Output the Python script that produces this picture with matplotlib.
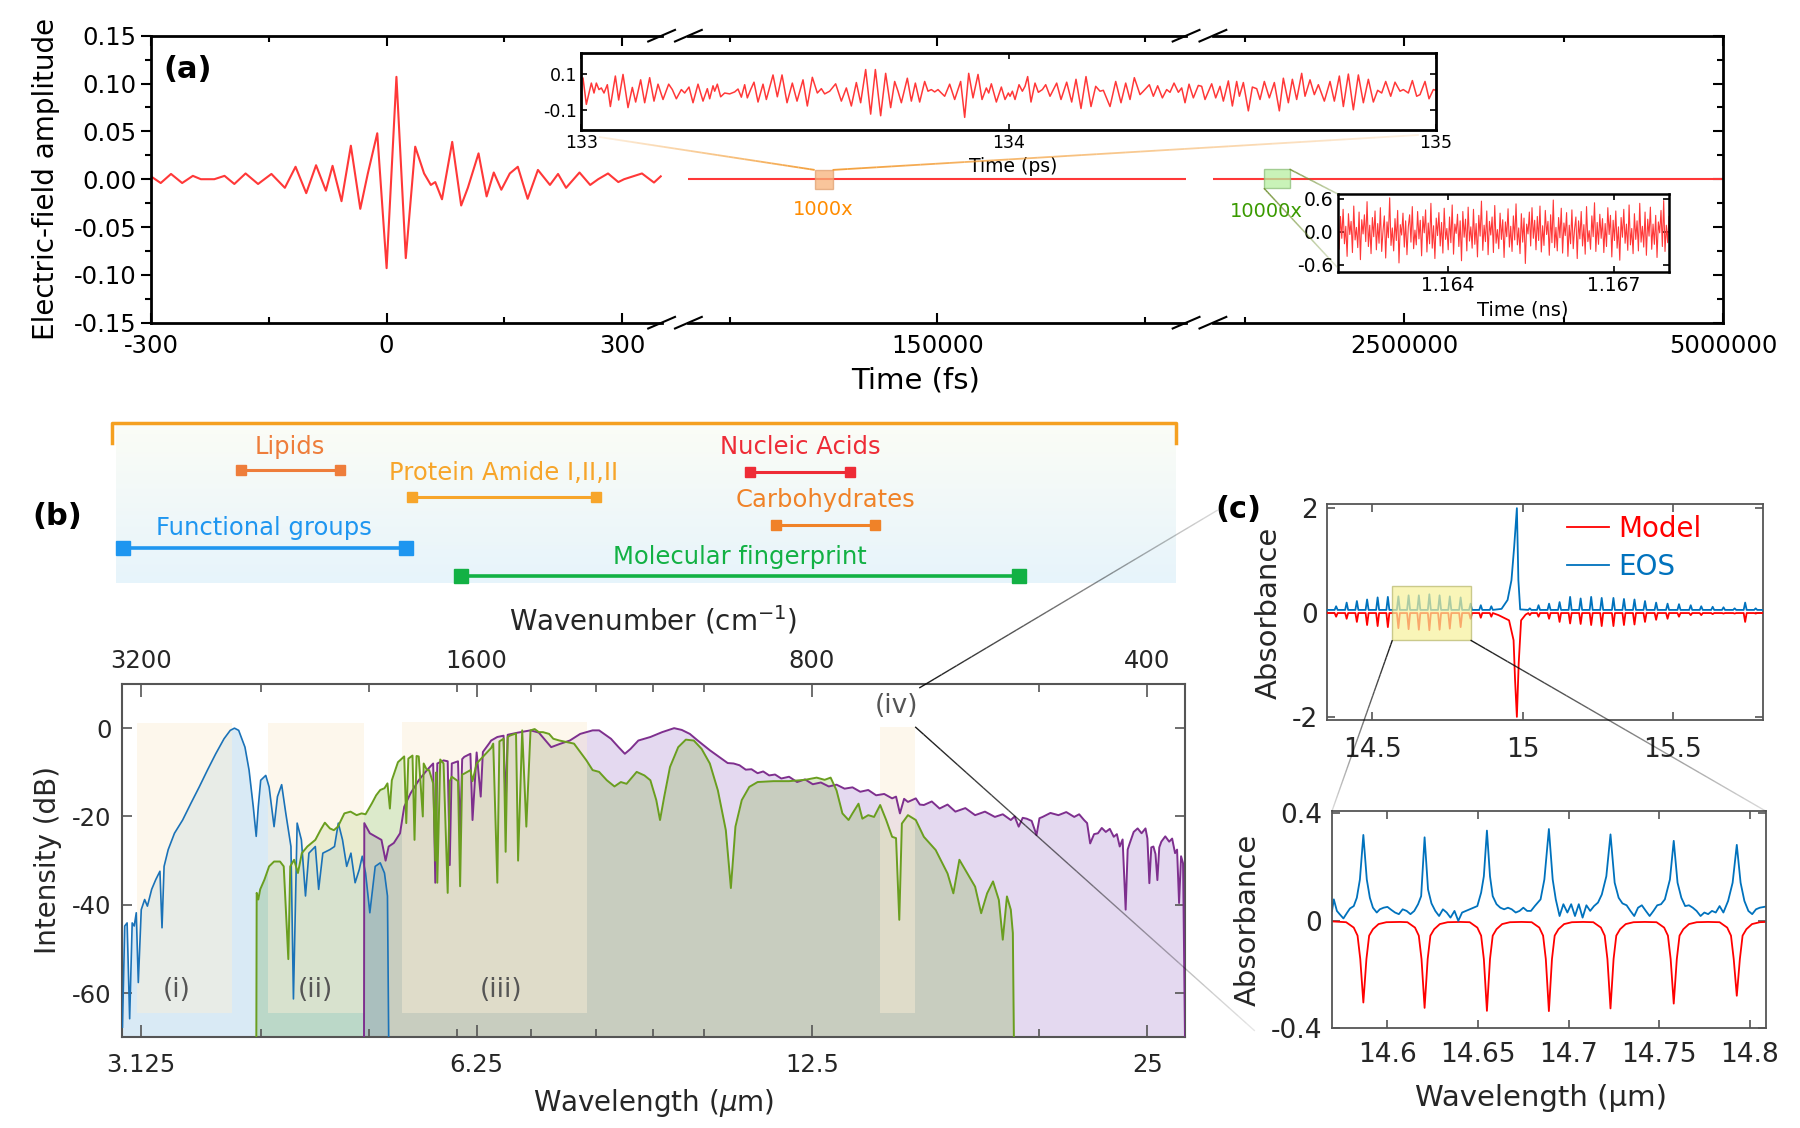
import numpy as np
import matplotlib
matplotlib.use("Agg")
import matplotlib.pyplot as plt
from matplotlib.collections import LineCollection
from matplotlib.transforms import IdentityTransform
from matplotlib.colors import to_rgba
from matplotlib.ticker import FixedLocator, NullFormatter
from matplotlib.patches import Rectangle

plt.rcParams['font.family'] = ['DejaVu Sans']
plt.rcParams['axes.unicode_minus'] = False
plt.rcParams['mathtext.fontset'] = 'dejavusans'

# ====================== DATA ======================
# (a) time-domain field, main window (fs)
pulse_t = [-300, -287.5, -274.4, -260.2, -246.6, -236.4, -219.3, -206.3, -193.8, -179.5,
           -163.6, -146.6, -129.5, -115.9, -102.3, -89.8, -77.3, -68.8, -57.4, -45.5,
           -33.5, -23.9, -11.9, 0.0, 12.5, 24.4, 36.4, 47.7, 56.3, 61.9,
           70.5, 83.5, 94.9, 103.4, 117.0, 127.3, 136.4, 146.0, 156.8, 167.0,
           179.5, 192.6, 207.9, 218.2, 228.4, 245.5, 259.1, 269.3, 281.8, 294.9,
           302.3, 325.0, 340.3, 348.9]
pulse_e = [0.003, -0.004, 0.0055, -0.004, 0.0035, 0.0, 0.0, 0.0035, -0.005, 0.006,
           -0.005, 0.0055, -0.009, 0.013, -0.0146, 0.0146, -0.012, 0.014, -0.023, 0.035,
           -0.031, 0.006, 0.048, -0.093, 0.107, -0.0825, 0.034, 0.006, -0.006, -0.003,
           -0.021, 0.039, -0.0275, -0.009, 0.027, -0.018, 0.007, -0.011, 0.006, 0.013,
           -0.0205, 0.0097, -0.006, 0.0055, -0.009, 0.007, -0.006, 0.0, 0.006, -0.003,
           0.0, 0.006, -0.0035, 0.003]
mid_t = [30000, 270000]
mid_e = [0.0, 0.0]
late_t = [1000000, 5000000]
late_e = [0.0, 0.0]
seg_limits = [(-300, 350), (30000, 270000), (1000000, 5000000)]
seg_major = [[-300, 0, 300], [150000], [2500000, 5000000]]
seg_minor = [[-150, 150], [50000, 250000], [1250000, 3750000]]
field_ticks = [-0.15, -0.10, -0.05, 0.0, 0.05, 0.10, 0.15]
field_minor = [-0.125, -0.075, -0.025, 0.025, 0.075, 0.125]
box1000 = [90900, 99530, -0.0105, 0.0097]       # t0, t1, e0, e1
box10000 = [1399700, 1600700, -0.0094, 0.0105]

# (a) inset: 1000x magnified window (ps)
ps_t = [133.0040, 133.0118, 133.0235, 133.0297, 133.0352, 133.0414, 133.0469, 133.0531, 133.0609, 133.0680,
        133.0797, 133.0875, 133.0976, 133.1093, 133.1194, 133.1272, 133.1389, 133.1483, 133.1600, 133.1701,
        133.1795, 133.1912, 133.2045, 133.2130, 133.2224, 133.2341, 133.2419, 133.2520, 133.2614, 133.2731,
        133.2848, 133.2949, 133.3004, 133.3082, 133.3121, 133.3183, 133.3261, 133.3355, 133.3472, 133.3589,
        133.3667, 133.3745, 133.3823, 133.3885, 133.3963, 133.4041, 133.4135, 133.4252, 133.4330, 133.4486,
        133.4587, 133.4697, 133.4814, 133.4938, 133.5048, 133.5188, 133.5289, 133.5406, 133.5523, 133.5617,
        133.5695, 133.5812, 133.5952, 133.6085, 133.6202, 133.6319, 133.6436, 133.6537, 133.6654, 133.6771,
        133.6881, 133.7005, 133.7122, 133.7239, 133.7333, 133.7411, 133.7489, 133.7629, 133.7723, 133.7817,
        133.7918, 133.8035, 133.8113, 133.8191, 133.8269, 133.8347, 133.8425, 133.8503, 133.8620, 133.8737,
        133.8877, 133.8971, 133.9065, 133.9166, 133.9283, 133.9377, 133.9478, 133.9533, 133.9595, 133.9712,
        133.9829,
        133.9915, 133.9993, 134.0032, 134.0087, 134.0149, 134.0243, 134.0321, 134.0383, 134.0445, 134.0523,
        134.0617, 134.0695, 134.0789, 134.0867, 134.0968, 134.1124, 134.1225, 134.1358, 134.1475, 134.1576,
        134.1693, 134.1810, 134.1927, 134.2037, 134.2138, 134.2216, 134.2372, 134.2505, 134.2629, 134.2739,
        134.2840, 134.2941, 134.3074, 134.3152, 134.3292, 134.3386, 134.3487, 134.3597, 134.3698, 134.3776,
        134.3870, 134.3971, 134.4049, 134.4127, 134.4221, 134.4322, 134.4439, 134.4517, 134.4595, 134.4751,
        134.4845, 134.4946, 134.5024, 134.5141, 134.5235, 134.5336, 134.5400, 134.5492, 134.5609, 134.5703,
        134.5804, 134.5882, 134.5983, 134.6100, 134.6217, 134.6334, 134.6428, 134.6545, 134.6639, 134.6740,
        134.6857, 134.6935, 134.7052, 134.7153, 134.7247, 134.7387, 134.7520, 134.7621, 134.7738, 134.7832,
        134.7949, 134.8066, 134.8183, 134.8300, 134.8417, 134.8534, 134.8635, 134.8729, 134.8823, 134.8940,
        134.9041, 134.9158, 134.9236, 134.9353, 134.9447, 134.9548, 134.9626, 134.9743, 134.9837, 134.9938,
        135.0000]
ps_e = [0.077, -0.068, 0.050, -0.005, 0.050, 0.014, 0.023, -0.005, 0.041, -0.080,
        0.089, -0.044, 0.098, -0.086, 0.026, -0.055, 0.068, -0.059, 0.080, -0.050,
        0.044, -0.041, 0.044, 0.014, -0.037, 0.014, -0.005, 0.028, -0.059, 0.044,
        -0.050, 0.019, -0.037, 0.035, 0.005, 0.044, -0.026, -0.005, -0.010, 0.001,
        0.017, -0.028, 0.041, -0.032, 0.014, 0.055, -0.055, 0.044, -0.041, 0.095,
        -0.026, 0.095, -0.059, 0.050, -0.050, 0.068, -0.077, 0.082, -0.005, 0.019,
        -0.010, 0.005, 0.046, -0.050, 0.023, -0.077, 0.053, -0.059, 0.125, -0.122,
        0.125, -0.131, 0.104, -0.086, 0.059, 0.005, -0.059, 0.077, -0.050, 0.050,
        -0.055, 0.059, 0.005, 0.014, 0.001, 0.014, -0.005, -0.023, 0.044, -0.041,
        0.059, -0.140, 0.104, -0.032, 0.098, -0.041, 0.023, -0.005, 0.046, -0.055,
        0.028,
        -0.041, -0.005, -0.023, 0.005, -0.041, 0.041, 0.005, 0.032, 0.086, -0.055,
        0.050, -0.001, 0.014, 0.041, -0.023, 0.050, -0.041, 0.055, -0.055, 0.071,
        -0.091, 0.086, -0.080, 0.032, 0.005, 0.010, -0.080, 0.059, -0.059, 0.050,
        -0.041, 0.080, -0.014, 0.005, 0.041, -0.023, 0.035, -0.032, 0.014, -0.001,
        0.050, -0.001, 0.023, -0.059, 0.044, -0.032, 0.037, 0.032, -0.041, 0.046,
        -0.032, 0.032, -0.050, 0.062, -0.077, 0.059, -0.023, 0.053, -0.104, 0.028,
        0.019, -0.041, 0.059, -0.032, 0.053, -0.104, 0.077, -0.059, 0.071, -0.041,
        0.104, -0.023, 0.068, -0.014, 0.041, -0.050, 0.059, -0.050, 0.089, -0.080,
        0.100, -0.098, 0.095, -0.059, 0.071, -0.055, 0.010, -0.005, 0.059, -0.023,
        0.055, 0.005, 0.014, -0.005, 0.064, -0.023, -0.014, 0.059, -0.037, 0.014,
        0.010]

# (a) inset: 10000x magnified window (ns), field values
ns_range = (1.1620, 1.1680)
ns_e = [0.05, -0.32, 0.28, -0.12, 0.41, -0.22, 0.10, -0.45, 0.33, -0.05, 0.19, -0.38, 0.47, -0.15, 0.08, -0.29, 0.36, -0.51, 0.22, -0.04, 0.31, -0.18, 0.55, -0.27, 0.12,
        -0.40, 0.26, -0.09, 0.38, -0.33, 0.15, -0.21, 0.44, -0.36, 0.02, 0.29, -0.48, 0.18, -0.11, 0.62, -0.25, 0.07, -0.35, 0.24, -0.16, 0.39, -0.57, 0.13, -0.06, 0.34,
        -0.28, 0.20, -0.42, 0.09, 0.31, -0.19, 0.46, -0.31, 0.03, -0.24, 0.37, -0.13, 0.21, -0.44, 0.28, -0.02, 0.40, -0.37, 0.16, -0.22, 0.52, -0.30, 0.11, -0.49, 0.25,
        -0.07, 0.35, -0.26, 0.17, -0.39, 0.43, -0.14, 0.06, -0.33, 0.27, -0.20, 0.49, -0.41, 0.14, -0.03, 0.32, -0.27, 0.20, -0.53, 0.37, -0.10, 0.23, -0.35, 0.45, -0.17,
        0.09, -0.30, 0.41, -0.23, 0.15, -0.46, 0.30, -0.08, 0.56, -0.34, 0.12, -0.18, 0.38, -0.42, 0.19, -0.06, 0.27, -0.38, 0.48, -0.21, 0.04, -0.31, 0.34, -0.14, 0.22,
        -0.47, 0.18, -0.09, 0.42, -0.28, 0.10, -0.36, 0.29, -0.15, 0.51, -0.24, 0.07, -0.40, 0.33, -0.19, 0.25, -0.58, 0.14, -0.04, 0.36, -0.26, 0.44, -0.12, 0.21, -0.33,
        0.28, -0.16, 0.47, -0.37, 0.11, -0.25, 0.39, -0.05, 0.19, -0.43, 0.31, -0.20, 0.58, -0.29, 0.08, -0.35, 0.26, -0.11, 0.43, -0.39, 0.16, -0.07, 0.35, -0.45, 0.12,
        -0.22, 0.40, -0.31, 0.05, 0.27, -0.49, 0.20, -0.13, 0.37, -0.26, 0.13, -0.41, 0.46, -0.18, 0.02, -0.32, 0.29, -0.09, 0.53, -0.36, 0.17, -0.23, 0.32, -0.12, 0.24,
        -0.38, 0.15, -0.27, 0.44, -0.05, 0.30, -0.46, 0.21, -0.16, 0.38, -0.30, 0.09, -0.52, 0.26, -0.10, 0.41, -0.21, 0.14, -0.34, 0.49, -0.24, 0.06, -0.40, 0.33, -0.14,
        0.20, -0.35, 0.52, -0.19, 0.10, -0.28, 0.36, -0.43, 0.23, -0.08, 0.45, -0.32, 0.14, -0.23, 0.30, -0.47, 0.18, -0.02, 0.39, -0.27, 0.57, -0.36, 0.12, -0.20, 0.28]

# (b) spectral bands (wavenumber, cm^-1)
band_names = ['Lipids', 'Protein Amide I,II,II', 'Functional groups',
              'Molecular fingerprint', 'Nucleic Acids', 'Carbohydrates']
band_start = [2606, 1829, 3322, 1653, 909, 862]
band_end = [2124, 1250, 1853, 522, 740, 703]

# (b) spectra: wavelength (um) vs intensity (dB)
blue_wl = [3.006, 3.020, 3.035, 3.051, 3.067, 3.080, 3.093, 3.106, 3.125, 3.147, 3.165, 3.193, 3.220, 3.248,
           3.262, 3.276, 3.304, 3.347, 3.404, 3.463, 3.523, 3.583, 3.645, 3.708, 3.756, 3.789, 3.822, 3.872,
           3.905, 3.939, 3.963, 3.980, 4.000, 4.042, 4.070, 4.112, 4.141, 4.177, 4.213, 4.258, 4.280, 4.313,
           4.351, 4.388, 4.419, 4.478, 4.509, 4.548, 4.615, 4.659, 4.696, 4.737, 4.778, 4.820, 4.862, 4.904,
           4.934, 4.968, 5.012, 5.068, 5.121, 5.166, 5.198, 5.211]
blue_db = [-67.7, -44.8, -44.1, -65.8, -44.1, -44.8, -41.8, -57.6, -41.1, -38.8, -40.3, -36.5, -34.3, -32.4,
           -45.2, -31.3, -27.5, -23.8, -20.8, -17.0, -13.3, -9.5, -5.8, -2.4, -0.5, 0.0, -0.5, -4.3,
           -9.5, -17.8, -24.5, -17.8, -11.8, -10.7, -13.3, -22.3, -15.5, -12.8, -19.3, -26.8, -61.3, -21.5,
           -25.3, -38.0, -28.3, -26.8, -36.5, -28.3, -27.5, -26.8, -21.5, -25.3, -31.3, -28.3, -35.0, -32.0,
           -29.0, -32.8, -41.8, -31.3, -30.5, -32.8, -38.0, -69.9]
green_wl = [3.964, 3.967, 3.980, 3.996, 4.031, 4.070, 4.112, 4.163, 4.195, 4.235, 4.252, 4.286, 4.320, 4.355,
            4.405, 4.478, 4.528, 4.567, 4.615, 4.653, 4.692, 4.755, 4.816, 4.877, 4.927, 4.968, 5.034, 5.078,
            5.121, 5.166, 5.198, 5.224, 5.245, 5.312, 5.381, 5.404, 5.427, 5.474, 5.497, 5.520, 5.545, 5.592,
            5.602, 5.640, 5.665, 5.689, 5.713, 5.738, 5.750, 5.762, 5.797, 5.837, 5.887, 5.912, 5.937, 6.014,
            6.040, 6.066, 6.092, 6.170, 6.197, 6.250, 6.303, 6.331, 6.412, 6.440, 6.468, 6.523, 6.551, 6.608,
            6.636, 6.664, 6.693, 6.780, 6.809, 6.867, 6.926, 6.986, 7.046, 7.107, 7.168, 7.260, 7.323, 7.417,
            7.545, 7.643, 7.742, 7.842, 7.943, 8.05, 8.18, 8.31, 8.42, 8.52, 8.70, 8.84, 8.95, 9.06,
            9.13, 9.21, 9.32, 9.48, 9.63, 9.79, 9.95, 10.12, 10.29, 10.46, 10.57, 10.67, 10.81, 10.98,
            11.17, 11.54, 11.92, 12.32, 12.62, 12.83, 12.99, 13.15, 13.31, 13.48, 13.59, 13.76, 13.87, 14.04,
            14.21, 14.39, 14.57, 14.75, 14.87, 14.97, 15.05, 15.24, 15.49, 15.75, 16.14, 16.54, 16.74, 16.95,
            17.23, 17.51, 17.73, 17.95, 18.17, 18.39, 18.54, 18.70, 18.85, 18.93, 18.97]
green_db = [-69.9, -37.3, -38.8, -36.5, -34.3, -31.3, -30.2, -30.2, -31.3, -52.3, -31.3, -29.8, -32.8, -28.3,
            -26.8, -25.3, -23.0, -21.4, -22.7, -23.1, -22.3, -19.3, -18.9, -19.7, -19.3, -19.5, -17.0, -15.2,
            -14.0, -13.6, -12.5, -18.2, -11.8, -7.7, -6.4, -21.5, -6.9, -6.2, -25.3, -6.3, -6.4, -20.0,
            -8.0, -9.5, -9.5, -11.0, -12.5, -30.0, -10.0, -35.0, -7.1, -8.0, -37.3, -12.0, -11.0, -12.0,
            -35.8, -10.5, -10.3, -9.5, -12.0, -8.0, -7.0, -6.5, -5.0, -4.5, -3.5, -35.0, -3.0, -2.4,
            -28.0, -2.0, -1.7, -1.2, -30.0, -0.5, -22.3, -0.5, -0.2, -0.9, -0.9, -1.3, -2.4, -2.8,
            -3.2, -3.5, -5.4, -7.3, -9.5, -9.9, -11.8, -13.2, -12.2, -12.6, -9.9, -10.7, -11.8, -16.3,
            -20.8, -15.5, -8.8, -4.3, -2.6, -2.8, -4.7, -8.0, -14.1, -23.1, -36.2, -22.3, -16.3, -13.3,
            -12.2, -12.0, -12.0, -11.7, -11.2, -11.7, -11.2, -14.1, -19.3, -20.8, -19.3, -17.1, -20.5, -19.7,
            -20.1, -17.4, -20.8, -24.6, -24.9, -43.4, -21.6, -19.7, -20.8, -24.6, -27.6, -32.9, -37.4, -29.8,
            -32.9, -35.9, -41.9, -37.4, -34.7, -38.9, -47.9, -38.1, -41.1, -46.4, -69.9]
purple_wl = [4.952, 4.955, 5.012, 5.068, 5.134, 5.178, 5.211, 5.267, 5.335, 5.381, 5.451, 5.545, 5.640, 5.713,
             5.738, 5.762, 5.837, 5.887, 5.912, 5.937, 6.014, 6.040, 6.066, 6.092, 6.170, 6.197, 6.250, 6.303,
             6.331, 6.412, 6.440, 6.523, 6.608, 6.636, 6.664, 6.809, 6.986, 7.107, 7.291, 7.417, 7.578, 7.742,
             7.943, 8.05, 8.25, 8.38, 8.49, 8.59, 8.73, 8.95, 9.17, 9.40, 9.55, 9.71, 9.87, 10.12,
             10.37, 10.50, 10.63, 10.76, 10.90, 11.03, 11.17, 11.30, 11.44, 11.58, 11.73, 11.92, 12.12, 12.32,
             12.52, 12.73, 12.94, 13.15, 13.37, 13.59, 13.81, 14.04, 14.27, 14.51, 14.75, 14.87, 14.99, 15.12,
             15.24, 15.49, 15.62, 15.75, 16.01, 16.27, 16.54, 16.81, 17.16, 17.51, 17.87, 18.24, 18.54, 18.85,
             19.00, 19.16, 19.32, 19.48, 19.68, 19.88, 20.00, 20.13, 20.46, 20.80, 21.14, 21.49, 21.71, 21.93,
             22.07, 22.21, 22.39, 22.57, 22.75, 22.94, 23.13, 23.32, 23.47, 23.61, 23.75, 23.90, 24.00, 24.10,
             24.30, 24.50, 24.70, 24.90, 25.00, 25.10, 25.20, 25.31, 25.42, 25.52, 25.62, 25.73, 25.94, 26.15,
             26.31, 26.47, 26.58, 26.69, 26.80, 26.91, 27.02]
purple_db = [-69.9, -21.5, -23.8, -24.5, -25.3, -30.0, -26.8, -26.0, -23.8, -17.8, -14.8, -11.8, -9.5, -8.0,
             -35.0, -8.0, -7.3, -7.5, -31.0, -8.0, -7.5, -24.5, -7.0, -6.5, -5.8, -20.8, -5.5, -15.5,
             -5.4, -3.5, -2.8, -2.0, -1.7, -17.8, -1.5, -1.0, -0.5, -1.0, -4.3, -3.6, -2.8, -1.3,
             -0.5, -0.5, -2.4, -4.3, -5.8, -4.7, -2.8, -2.0, -0.9, 0.0, -0.4, -1.3, -2.8, -5.0,
             -6.9, -7.9, -8.0, -8.4, -9.4, -9.3, -10.2, -9.8, -10.7, -10.5, -11.4, -11.0, -12.2, -11.6,
             -12.7, -12.3, -13.2, -12.8, -13.7, -13.4, -14.4, -14.0, -15.2, -14.9, -15.9, -15.5, -19.3, -16.0,
             -16.7, -15.9, -17.3, -17.4, -16.6, -18.2, -17.3, -18.9, -18.1, -19.7, -18.9, -20.1, -19.5, -20.8,
             -20.0, -22.3, -20.3, -20.5, -21.0, -24.2, -20.4, -20.1, -19.2, -19.7, -19.0, -20.1, -19.5, -20.8,
             -21.5, -26.1, -24.0, -23.8, -22.6, -23.5, -22.8, -24.6, -24.0, -26.8, -25.2, -41.1, -27.5, -26.1,
             -23.5, -22.7, -23.8, -22.7, -25.0, -35.1, -27.0, -26.8, -28.5, -34.4, -27.0, -25.7, -24.5, -25.7,
             -25.0, -28.3, -27.5, -39.6, -29.0, -30.6, -69.9]
region_labels = ['(i)', '(ii)', '(iii)', '(iv)']
region_lo = [3.099, 4.058, 5.361, 14.39]
region_hi = [3.773, 4.950, 7.846, 15.47]
region_top = [1.1, 1.1, 1.3, 0.3]
region_bottom = -64.6

# (c) top: line centres and strengths (wavelength um, absorbance)
line_c = [14.380, 14.415, 14.449, 14.483, 14.518, 14.552, 14.587, 14.621, 14.655, 14.690, 14.724, 14.758,
          14.794, 14.827, 14.861, 14.896,
          15.024, 15.053, 15.088, 15.123, 15.158, 15.193, 15.228, 15.263, 15.302, 15.337, 15.372, 15.407,
          15.444, 15.482, 15.520, 15.559, 15.594, 15.632, 15.668, 15.705, 15.740, 15.775]
eos_peak = [0.12, 0.19, 0.22, 0.25, 0.29, 0.30, 0.31, 0.33, 0.33, 0.35, 0.33, 0.31,
            0.29, 0.17, 0.14, 0.12,
            0.08, 0.14, 0.17, 0.20, 0.30, 0.27, 0.30, 0.28, 0.28, 0.26, 0.25, 0.22,
            0.19, 0.17, 0.16, 0.14, 0.12, 0.11, 0.10, 0.08, 0.19, 0.08]
model_dip = [-0.08, -0.12, -0.18, -0.24, -0.26, -0.28, -0.30, -0.32, -0.33, -0.34, -0.33, -0.31,
             -0.28, -0.12, -0.10, -0.08,
             -0.05, -0.08, -0.12, -0.18, -0.21, -0.22, -0.24, -0.26, -0.26, -0.24, -0.23, -0.18,
             -0.14, -0.12, -0.08, -0.05, -0.05, -0.03, -0.02, -0.02, -0.18, -0.02]
eos_base = 0.05
model_base = -0.01
q_eos_wl = [14.930, 14.950, 14.963, 14.972, 14.981, 14.986, 14.992]
q_eos_a = [0.07, 0.24, 0.62, 1.26, 2.00, 0.62, 0.06]
q_model_wl = [14.920, 14.955, 14.970, 14.975, 14.981, 14.987, 14.995, 15.010]
q_model_a = [-0.05, -0.15, -0.53, -1.30, -2.00, -0.98, -0.15, -0.04]
zoom_box_c = [14.567, 14.827, -0.53, 0.505]

# (c) bottom: zoomed absorbance
eosz_wl = [14.5694, 14.5704, 14.5721, 14.5736, 14.5757, 14.5778, 14.5793, 14.5814, 14.5831, 14.5848,
           14.5867, 14.5886, 14.5903, 14.5920, 14.5941, 14.5958, 14.5979, 14.6000, 14.6021, 14.6042,
           14.6063, 14.6084, 14.6106, 14.6127, 14.6148, 14.6169, 14.6186, 14.6205, 14.6224, 14.6243,
           14.6264, 14.6285, 14.6306, 14.6327, 14.6348, 14.6370, 14.6391, 14.6412, 14.6433, 14.6454,
           14.6475, 14.6496, 14.6517, 14.6532, 14.6549, 14.6566, 14.6581, 14.6602, 14.6623, 14.6644,
           14.6665, 14.6686, 14.6708, 14.6729, 14.6750, 14.6771, 14.6792, 14.6813, 14.6845, 14.6866,
           14.6891, 14.6912, 14.6929, 14.6950, 14.6971, 14.6993, 14.7014, 14.7035, 14.7056, 14.7077,
           14.7098, 14.7119, 14.7140, 14.7162, 14.7183, 14.7208, 14.7231, 14.7254, 14.7276, 14.7297,
           14.7320, 14.7341, 14.7362, 14.7383, 14.7404, 14.7426, 14.7447, 14.7468, 14.7489, 14.7510,
           14.7531, 14.7559, 14.7580, 14.7601, 14.7622, 14.7643, 14.7664, 14.7685, 14.7706, 14.7728,
           14.7749, 14.7770, 14.7791, 14.7812, 14.7833, 14.7854, 14.7880, 14.7905, 14.7928, 14.7949,
           14.7970, 14.7992, 14.8013, 14.8034, 14.8055, 14.8087]
eosz_a = [0.037, 0.080, 0.037, 0.025, 0.009, 0.031, 0.046, 0.055, 0.086, 0.154,
          0.320, 0.154, 0.086, 0.049, 0.031, 0.043, 0.049, 0.052, 0.041, 0.031,
          0.025, 0.043, 0.037, 0.025, 0.037, 0.062, 0.092, 0.311, 0.117, 0.065,
          0.037, 0.018, 0.043, 0.031, 0.012, 0.037, 0.000, 0.031, 0.037, 0.043,
          0.049, 0.055, 0.105, 0.166, 0.336, 0.166, 0.092, 0.062, 0.049, 0.043,
          0.049, 0.043, 0.031, 0.037, 0.049, 0.037, 0.037, 0.055, 0.080, 0.154,
          0.342, 0.154, 0.080, 0.018, 0.062, 0.031, 0.062, 0.018, 0.062, 0.012,
          0.058, 0.037, 0.055, 0.068, 0.098, 0.166, 0.322, 0.142, 0.086, 0.065,
          0.058, 0.037, 0.018, 0.049, 0.058, 0.037, 0.018, 0.037, 0.058, 0.062,
          0.080, 0.154, 0.298, 0.142, 0.086, 0.055, 0.058, 0.049, 0.037, 0.018,
          0.031, 0.025, 0.037, 0.031, 0.055, 0.031, 0.074, 0.142, 0.283, 0.142,
          0.074, 0.037, 0.025, 0.043, 0.049, 0.053]
modz_wl = [14.5694, 14.5772, 14.5814, 14.5835, 14.5850, 14.5867, 14.5884, 14.5899, 14.5920, 14.5951, 14.5994, 14.6070,
           14.6110, 14.6152, 14.6173, 14.6188, 14.6205, 14.6222, 14.6237, 14.6258, 14.6289, 14.6332, 14.6400,
           14.6454, 14.6496, 14.6517, 14.6532, 14.6549, 14.6566, 14.6581, 14.6602, 14.6633, 14.6676, 14.6740,
           14.6796, 14.6838, 14.6859, 14.6874, 14.6891, 14.6908, 14.6923, 14.6944, 14.6975, 14.7018, 14.7080,
           14.7136, 14.7178, 14.7199, 14.7214, 14.7231, 14.7248, 14.7263, 14.7284, 14.7315, 14.7358, 14.7420,
           14.7485, 14.7527, 14.7548, 14.7563, 14.7580, 14.7597, 14.7612, 14.7633, 14.7664, 14.7707, 14.7770,
           14.7833, 14.7875, 14.7896, 14.7911, 14.7928, 14.7945, 14.7960, 14.7981, 14.8012, 14.8055, 14.8087]
modz_a = [-0.002, -0.005, -0.025, -0.055, -0.142, -0.304, -0.142, -0.055, -0.031, -0.012, -0.005, -0.004,
          -0.005, -0.025, -0.055, -0.142, -0.324, -0.142, -0.055, -0.031, -0.012, -0.005, -0.004,
          -0.005, -0.025, -0.055, -0.142, -0.335, -0.142, -0.055, -0.031, -0.012, -0.005, -0.004,
          -0.005, -0.025, -0.055, -0.142, -0.336, -0.142, -0.055, -0.031, -0.012, -0.005, -0.004,
          -0.005, -0.025, -0.055, -0.142, -0.326, -0.142, -0.055, -0.031, -0.012, -0.005, -0.004,
          -0.005, -0.025, -0.055, -0.142, -0.308, -0.142, -0.055, -0.031, -0.012, -0.005, -0.004,
          -0.005, -0.025, -0.055, -0.142, -0.279, -0.142, -0.055, -0.031, -0.012, -0.005, -0.004]

# ====================== STYLE / LAYOUT ======================
W, H = 1800, 1128
fig = plt.figure(figsize=(W / 100, H / 100), dpi=100)

RED = '#FF3838'
DARK = '#262626'


def fax(l, t, r, b, **kw):
    return fig.add_axes([l / W, 1 - b / H, (r - l) / W, (b - t) / H], **kw)


def disp(ax, xy, coords='data'):
    tr = ax.transData if coords == 'data' else ax.transAxes
    return tr.transform(xy)


def fade(p0, p1, color, a0, a1, lw=1.0, n=40, z=20):
    xs = np.linspace(p0[0], p1[0], n + 1)
    ys = np.linspace(p0[1], p1[1], n + 1)
    segs = [[(xs[i], ys[i]), (xs[i + 1], ys[i + 1])] for i in range(n)]
    cols = [to_rgba(color, a) for a in np.linspace(a0, a1, n)]
    lc = LineCollection(segs, colors=cols, linewidths=lw, transform=IdentityTransform(), zorder=z)
    fig.add_artist(lc)


# ---------------- (a) ----------------
seg_px = [(150.9, 661.6), (688.4, 1186.1), (1212.9, 1723.3)]
a_top, a_bot = 35.7, 322.7
segs = []
for i, (l, r) in enumerate(seg_px):
    ax = fax(l, a_top, r, a_bot)
    ax.set_xlim(*seg_limits[i])
    ax.set_ylim(-0.15, 0.15)
    for s in ax.spines.values():
        s.set_linewidth(2.0)
    ax.spines['left'].set_visible(i == 0)
    ax.spines['right'].set_visible(i == 2)
    ax.set_xticks(seg_major[i])
    ax.set_xticks(seg_minor[i], minor=True)
    ax.set_xticklabels([str(v) for v in seg_major[i]], fontsize=17.5)
    ax.tick_params(axis='x', which='both', direction='in', top=True, bottom=True, pad=8, width=1.5)
    ax.tick_params(axis='x', which='major', length=7)
    ax.tick_params(axis='x', which='minor', length=4)
    ax.set_yticks(field_ticks)
    ax.set_yticks(field_minor, minor=True)
    if i == 0:
        ax.set_yticklabels(['%.2f' % v for v in field_ticks], fontsize=17.5)
        ax.tick_params(axis='y', which='both', direction='out', left=True, right=False, width=1.5)
        ax.tick_params(axis='y', which='major', length=7)
        ax.tick_params(axis='y', which='minor', length=4)
    elif i == 1:
        ax.tick_params(axis='y', which='both', left=False, right=False, labelleft=False)
    else:
        ax.tick_params(axis='y', which='both', direction='in', left=False, right=True,
                       labelleft=False, labelright=False, width=1.5)
        ax.tick_params(axis='y', which='major', length=7)
        ax.tick_params(axis='y', which='minor', length=4)
    segs.append(ax)

a1, a2, a3 = segs
a1.plot(pulse_t, pulse_e, color=RED, lw=1.5)
a2.plot(mid_t, mid_e, color=RED, lw=1.5)
a3.plot(late_t, late_e, color=RED, lw=1.5)

# broken-axis marks
for ax, side in [(a1, 1), (a2, 0), (a2, 1), (a3, 0)]:
    bb = ax.get_position()
    wpx, hpx = bb.width * W, bb.height * H
    dx, dy = 13.4 / wpx, 5.8 / hpx
    for yy in (0, 1):
        ax.plot([side - dx, side + dx], [yy - dy, yy + dy], transform=ax.transAxes,
                color='k', lw=1.5, clip_on=False, zorder=10)

# magnified-window markers
a2.add_patch(Rectangle((box1000[0], box1000[2]), box1000[1] - box1000[0], box1000[3] - box1000[2],
                       facecolor='#F8B27A', edgecolor='#E0A070', alpha=0.75, lw=1, zorder=5))
a3.add_patch(Rectangle((box10000[0], box10000[2]), box10000[1] - box10000[0], box10000[3] - box10000[2],
                       facecolor='#B8F0A0', edgecolor='#8CBF7A', alpha=0.75, lw=1, zorder=5))
a2.text((box1000[0] + box1000[1]) / 2, -0.032, '1000x', color='#FF8C00', fontsize=14,
        ha='center', va='center')
a3.text(1415000, -0.034, '10000x', color='#3A9A00', fontsize=14, ha='center', va='center')

fig.text(187.5 / W, 1 - 70 / H, '(a)', fontsize=22, fontweight='bold', ha='center', va='center')
fig.text(916 / W, 1 - 380 / H, 'Time (fs)', fontsize=21, ha='center', va='center')
fig.text(45.7 / W, 1 - 179 / H, 'Electric-field amplitude', fontsize=20, rotation=90,
         ha='center', va='center')

# inset 1000x
i1 = fax(581.3, 53.3, 1436, 130)
i1.plot(ps_t, ps_e, color=RED, lw=1.1)
i1.set_xlim(133, 135)
i1.set_ylim(-0.21, 0.215)
i1.set_xticks([133, 134, 135])
i1.set_xticklabels(['133', '134', '135'], fontsize=12.5)
i1.set_yticks([0.1, -0.1])
i1.set_yticklabels(['0.1', '-0.1'], fontsize=12.5)
i1.tick_params(direction='in', length=4, width=1.2, top=True, right=True, pad=3)
for s in i1.spines.values():
    s.set_linewidth(2.0)
fig.text(1013 / W, 1 - 166.5 / H, 'Time (ps)', fontsize=13.5, ha='center', va='center')

# inset 10000x
i2 = fax(1337.8, 194, 1669, 271.7)
i2.plot(np.linspace(ns_range[0], ns_range[1], len(ns_e)), ns_e, color=RED, lw=0.8)
i2.set_xlim(1.162, 1.168)
i2.set_ylim(-0.73, 0.69)
i2.set_xticks([1.164, 1.167])
i2.set_xticklabels(['1.164', '1.167'], fontsize=13.5)
i2.set_yticks([0.6, 0.0, -0.6])
i2.set_yticklabels(['0.6', '0.0', '-0.6'], fontsize=13.5)
i2.tick_params(direction='in', length=4, width=1.2, top=True, right=True, pad=3)
for s in i2.spines.values():
    s.set_linewidth(1.8)
fig.text(1523 / W, 1 - 310 / H, 'Time (ns)', fontsize=14, ha='center', va='center')

# ---------------- (b) bands ----------------
XMIN, XMAX = 3.0, 27.03
bg = fax(116, 425, 1175.3, 583.3)
top_c = np.array([0.985, 0.99, 0.965])
bot_c = np.array([0.905, 0.957, 0.985])
grad = np.linspace(top_c, bot_c, 64)[:, None, :]
bg.imshow(grad, aspect='auto', extent=[0, 1, 0, 1], interpolation='bilinear')
bg.axis('off')

band = fax(121.5, 423, 1185.2, 583.3)
band.patch.set_visible(False)
band.set_xscale('log')
band.set_xlim(1e4 / XMIN, 1e4 / XMAX)
band.set_ylim(0, 1)
band.axis('off')
band_colors = ['#EE7D3B', '#F7A52A', '#1E96F0', '#12B144', '#EE2B36', '#F08228']
band_line_y = [0.707, 0.536, 0.222, 0.047, 0.696, 0.362]
band_text_y = [0.852, 0.686, 0.343, 0.166, 0.852, 0.520]
band_ms = [7, 7, 10, 10, 7, 7]
band_lw = [2.2, 2.2, 2.6, 2.6, 2.2, 2.2]
for nm, k0, k1, c, ly, ty, ms, lw in zip(band_names, band_start, band_end, band_colors,
                                          band_line_y, band_text_y, band_ms, band_lw):
    band.plot([k0, k1], [ly, ly], color=c, lw=lw, marker='s', ms=ms, clip_on=False)
    band.text(np.sqrt(k0 * k1), ty, nm, color=c, fontsize=17.5, ha='center', va='center')
band.plot([-0.0093, -0.0093, 0.9913, 0.9913], [0.877, 1.0, 1.0, 0.877], transform=band.transAxes,
          color='#F5A020', lw=2.5, clip_on=False)
fig.text(57 / W, 1 - 516.7 / H, '(b)', fontsize=22, fontweight='bold', ha='center', va='center')

# ---------------- (b) spectrum ----------------
sp = fax(121.5, 684, 1185.2, 1037.3)
sp.set_xscale('log')
sp.set_xlim(XMIN, XMAX)
sp.set_ylim(-70, 10)
BL, GR, PU = '#1A72B8', '#6A9E1F', '#7E2F8E'
sp.fill_between(purple_wl, purple_db, -70, color='#E4D9F0', lw=0, zorder=1)
sp.fill_between(green_wl, green_db, -70, color='#77AC30', alpha=0.25, lw=0, zorder=1.2)
sp.fill_between(blue_wl, blue_db, -70, color='#0072BD', alpha=0.15, lw=0, zorder=1.4)
for lo, hi, tp in zip(region_lo, region_hi, region_top):
    sp.fill_between([lo, hi], [region_bottom] * 2, [tp] * 2, color='#FCEFD6', alpha=0.45, lw=0, zorder=2)
sp.plot(blue_wl, blue_db, color=BL, lw=1.2, zorder=3)
sp.plot(purple_wl, purple_db, color=PU, lw=1.4, zorder=4)
sp.plot(green_wl, green_db, color=GR, lw=1.4, zorder=5)
lab_x = [3.36, 4.48, 6.57, 14.88]
lab_y = [-59.2, -59.2, -59.2, 5.1]
for t, x, y in zip(region_labels, lab_x, lab_y):
    sp.text(x, y, t, fontsize=19, color='#555555', ha='center', va='center', zorder=6)

sp.xaxis.set_major_locator(FixedLocator([3.125, 6.25, 12.5, 25]))
sp.xaxis.set_minor_locator(FixedLocator([4, 5, 6, 7, 8, 9, 10, 20]))
sp.xaxis.set_minor_formatter(NullFormatter())
sp.set_xticklabels(['3.125', '6.25', '12.5', '25'], fontsize=17.5, color=DARK)
sp.set_yticks([0, -20, -40, -60])
sp.set_yticklabels(['0', '-20', '-40', '-60'], fontsize=17.5, color=DARK)
sp.tick_params(axis='both', which='both', direction='in', right=True, width=1.2, colors='#555555',
               labelcolor=DARK)
sp.tick_params(axis='x', which='major', length=9, pad=11)
sp.tick_params(axis='x', which='minor', length=6)
sp.tick_params(axis='y', length=7, pad=7)
for s in sp.spines.values():
    s.set_color('#555555')
    s.set_linewidth(1.5)

spt = sp.twiny()
spt.set_xscale('log')
spt.set_xlim(1e4 / XMIN, 1e4 / XMAX)
spt.xaxis.set_major_locator(FixedLocator([3200, 1600, 800, 400]))
spt.xaxis.set_minor_locator(FixedLocator([1e4 / v for v in [4, 5, 6, 7, 8, 9, 10, 20]]))
spt.xaxis.set_minor_formatter(NullFormatter())
spt.set_xticklabels(['3200', '1600', '800', '400'], fontsize=17.5, color=DARK)
spt.tick_params(axis='x', which='both', direction='in', width=1.2, colors='#555555', labelcolor=DARK)
spt.tick_params(axis='x', which='major', length=9, pad=8)
spt.tick_params(axis='x', which='minor', length=6)
for s in spt.spines.values():
    s.set_visible(False)

fig.text(653.4 / W, 1 - 620 / H, 'Wavenumber (cm$^{-1}$)', fontsize=20, color=DARK, ha='center', va='center')
fig.text(653.4 / W, 1 - 1103 / H, r'Wavelength ($\mu$m)', fontsize=20, color=DARK, ha='center', va='center')
fig.text(47.7 / W, 1 - 860 / H, 'Intensity (dB)', fontsize=20, color=DARK, rotation=90,
         ha='center', va='center')


# ---------------- (c) ----------------
def spikes(centers, heights, base, ex_x, ex_y, lo, hi, hw):
    xs = [lo, hi] + list(ex_x)
    ys = [base, base] + list(ex_y)
    for c, h in zip(centers, heights):
        xs += [c - hw, c, c + hw]
        ys += [base, h, base]
    o = np.argsort(xs)
    return np.array(xs)[o], np.array(ys)[o]


CBLUE, CRED = '#0072BD', '#FF0000'
ct = fax(1327.4, 504, 1762.6, 720)
ct.set_xlim(14.351, 15.798)
ct.set_ylim(-2.06, 2.08)
mx, my = spikes(line_c, model_dip, model_base, q_model_wl, q_model_a, 14.351, 15.798, 0.005)
ex, ey = spikes(line_c, eos_peak, eos_base, q_eos_wl, q_eos_a, 14.351, 15.798, 0.005)
ct.plot(mx, my, color=CRED, lw=1.3, label='Model', zorder=3)
ct.plot(ex, ey, color=CBLUE, lw=1.3, label='EOS', zorder=4)
ct.add_patch(Rectangle((zoom_box_c[0], zoom_box_c[2]), zoom_box_c[1] - zoom_box_c[0],
                       zoom_box_c[3] - zoom_box_c[2], facecolor='#F7F29A', edgecolor='#B5B56A',
                       alpha=0.7, lw=1.0, zorder=6))
ct.set_xticks([14.5, 15, 15.5])
ct.set_xticklabels(['14.5', '15', '15.5'], fontsize=19, color=DARK)
ct.set_yticks([2, 0, -2])
ct.set_yticklabels(['2', '0', '-2'], fontsize=19, color=DARK)
ct.tick_params(direction='in', top=True, right=True, length=6, width=1.2, colors='#555555',
               labelcolor=DARK)
ct.tick_params(axis='x', pad=12)
ct.tick_params(axis='y', pad=7)
for s in ct.spines.values():
    s.set_color('#555555')
    s.set_linewidth(1.3)
leg = ct.legend(loc='upper left', bbox_to_anchor=(0.525, 1.0), borderaxespad=0, frameon=False,
                fontsize=20, handlelength=1.5, handletextpad=0.36, labelspacing=0.35,
                labelcolor='linecolor')
fig.text(1269 / W, 1 - 613 / H, 'Absorbance', fontsize=21, color=DARK, rotation=90,
         ha='center', va='center')
fig.text(1238 / W, 1 - 510 / H, '(c)', fontsize=22, fontweight='bold', ha='center', va='center')

cb = fax(1332, 811, 1765.6, 1028.3)
cb.set_xlim(14.5694, 14.8087)
cb.set_ylim(-0.4, 0.409)
cb.plot(modz_wl, modz_a, color=CRED, lw=1.3)
cb.plot(eosz_wl, eosz_a, color=CBLUE, lw=1.3)
cb.set_xticks([14.6, 14.65, 14.7, 14.75, 14.8])
cb.set_xticklabels(['14.6', '14.65', '14.7', '14.75', '14.8'], fontsize=19, color=DARK)
cb.set_yticks([0.4, 0, -0.4])
cb.set_yticklabels(['0.4', '0', '-0.4'], fontsize=19, color=DARK)
cb.tick_params(direction='in', top=True, right=True, length=6, width=1.2, colors='#555555',
               labelcolor=DARK)
cb.tick_params(axis='x', pad=10)
cb.tick_params(axis='y', pad=7)
for s in cb.spines.values():
    s.set_color('#555555')
    s.set_linewidth(1.3)
fig.text(1247.6 / W, 1 - 920 / H, 'Absorbance', fontsize=21, color=DARK, rotation=90,
         ha='center', va='center')
fig.text(1540.6 / W, 1 - 1098 / H, 'Wavelength (μm)', fontsize=21, color=DARK, ha='center', va='center')

# ---------------- connector lines ----------------
fade(disp(i1, (0.0207, -0.091), 'axes'), disp(a2, (box1000[0], box1000[3])), '#F39C34', 0.15, 0.95, lw=1.3)
fade(disp(a2, (box1000[1], box1000[3])), disp(i1, (0.9799, -0.065), 'axes'), '#F39C34', 0.95, 0.15, lw=1.3)
fade(disp(a3, (box10000[1], box10000[3])), disp(i2, (0.0, 1.0), 'axes'), '#6E8F2E', 0.9, 0.35, lw=1.1)
fade(disp(a3, (box10000[0], box10000[2])), disp(i2, (0.0, 0.05), 'axes'), '#6E8F2E', 0.9, 0.2, lw=1.1)
fade(disp(sp, (15.6, 9.1)), disp(ct, (-0.252, 0.972), 'axes'), 'k', 0.9, 0.15, lw=1.0)
fade(disp(sp, (region_hi[3], region_top[3])), disp(cb, (-0.178, -0.012), 'axes'), 'k', 0.9, 0.1, lw=1.0)
fade(disp(ct, (zoom_box_c[0], zoom_box_c[2])), disp(cb, (0.0, 1.0), 'axes'), 'k', 0.9, 0.15, lw=1.0)
fade(disp(ct, (zoom_box_c[1], zoom_box_c[2])), disp(cb, (1.0, 1.0), 'axes'), 'k', 0.9, 0.15, lw=1.0)

fig.savefig('out.png', dpi=100)
